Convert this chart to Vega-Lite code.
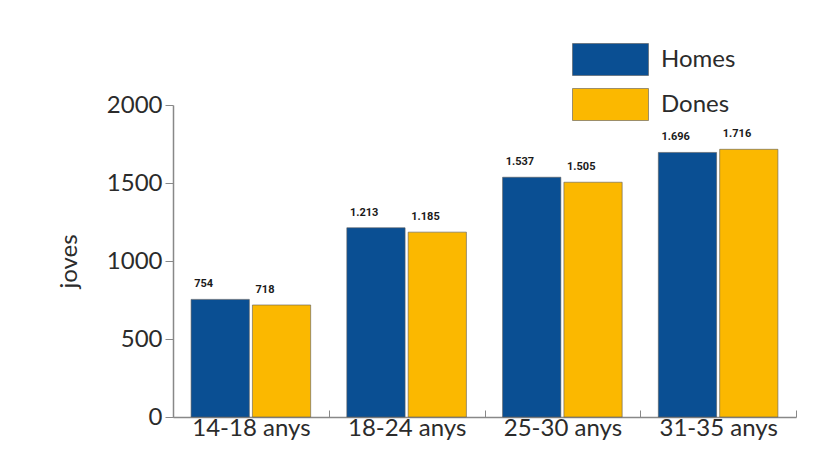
{
  "$schema": "https://vega.github.io/schema/vega-lite/v6.json",
  "width": 623,
  "height": 312,
  "autosize": {"type": "none"},
  "padding": {"left": 173, "top": 105, "right": 42, "bottom": 41},
  "background": "white",
  "config": {
    "view": {"stroke": null},
    "font": "Lato",
    "locale": {"number": {"decimal": ",", "thousands": ".", "grouping": [3], "currency": ["", " €"]}}
  },
  "data": {
    "values": [
      {"grup": "14-18 anys", "sexe": "Homes", "joves": 754},
      {"grup": "14-18 anys", "sexe": "Dones", "joves": 718},
      {"grup": "18-24 anys", "sexe": "Homes", "joves": 1213},
      {"grup": "18-24 anys", "sexe": "Dones", "joves": 1185},
      {"grup": "25-30 anys", "sexe": "Homes", "joves": 1537},
      {"grup": "25-30 anys", "sexe": "Dones", "joves": 1505},
      {"grup": "31-35 anys", "sexe": "Homes", "joves": 1696},
      {"grup": "31-35 anys", "sexe": "Dones", "joves": 1716}
    ]
  },
  "encoding": {
    "x": {
      "field": "grup", "type": "nominal", "sort": null,
      "scale": {"paddingInner": 0, "paddingOuter": 0},
      "axis": {
        "title": null, "labelAngle": 0, "labelFontSize": 24, "labelColor": "#2b2b2b",
        "labelPadding": 6, "tickBand": "extent", "tickSize": -7, "tickColor": "#888",
        "domainColor": "#888", "domainWidth": 1.5, "labelFont": "Lato"
      }
    },
    "xOffset": {
      "field": "sexe", "type": "nominal", "sort": ["Homes", "Dones"],
      "scale": {"paddingInner": 0.05, "paddingOuter": 0.295}
    },
    "y": {
      "field": "joves", "type": "quantitative",
      "scale": {"domain": [0, 2000], "nice": false},
      "axis": {
        "title": "joves", "titleFontSize": 24, "titleFontWeight": "normal", "titleColor": "#2b2b2b",
        "titlePadding": 25, "titleFont": "Lato",
        "values": [0, 500, 1000, 1500, 2000], "format": "d", "grid": false,
        "labelFontSize": 24, "labelColor": "#2b2b2b", "labelPadding": 3, "tickSize": 8,
        "tickColor": "#888", "domainColor": "#888", "domainWidth": 1.5, "labelFont": "Lato"
      }
    }
  },
  "layer": [
    {
      "mark": {"type": "bar", "stroke": "#5a5a5a", "strokeWidth": 0.6},
      "encoding": {
        "color": {
          "field": "sexe", "type": "nominal", "sort": ["Homes", "Dones"],
          "scale": {"domain": ["Homes", "Dones"], "range": ["#0a4f93", "#fbb800"]},
          "legend": {
            "title": null, "orient": "none", "legendX": 399, "legendY": -62, "padding": 0,
            "symbolType": "M-1,-1H3.75V1H-1Z", "symbolSize": 1024, "symbolStrokeWidth": 0.6,
            "symbolStrokeColor": "#5a5a5a", "symbolOpacity": 1,
            "labelFontSize": 24, "labelColor": "#2b2b2b", "labelOffset": 56, "rowPadding": 10,
            "labelFont": "Lato"
          }
        }
      }
    },
    {
      "mark": {"type": "text", "align": "left", "baseline": "middle", "dx": -26, "dy": -15, "fontSize": 11, "fontWeight": "bold", "color": "#1a1a1a", "font": "Roboto"},
      "encoding": {
        "text": {"field": "joves", "type": "quantitative", "format": ",d"}
      }
    }
  ]
}
